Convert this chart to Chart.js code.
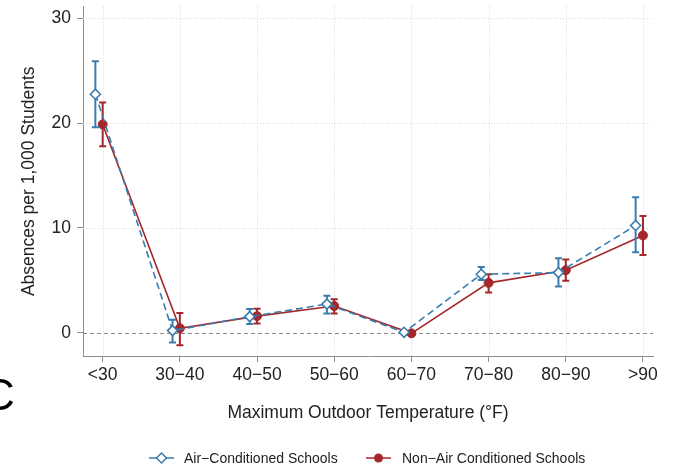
<!DOCTYPE html>
<html>
<head>
<meta charset="utf-8">
<script src="https://cdn.jsdelivr.net/npm/chart.js@4/dist/chart.umd.min.js"></script>
<style>
  html, body { margin: 0; padding: 0; background: #fff; }
  #wrap { position: relative; width: 673px; height: 469px; }
</style>
</head>
<body>
<div id="wrap"><canvas id="chart" width="673" height="469"></canvas></div>
<script>
// temperature bins
const categories = ['<30', '30\u221240', '40\u221250', '50\u221260', '60\u221270', '70\u221280', '80\u221290', '>90'];
const yTicks = [0, 10, 20, 30];

// air-conditioned schools: estimate and 95% CI
const acMean = [22.75, 0.22, 1.55, 2.75, 0.06, 5.59, 5.75, 10.24];
const acLow  = [19.6, -0.92, 0.85, 1.86, -0.1, 5.05, 4.42, 7.68];
const acHigh = [25.9, 1.26, 2.27, 3.54, 0.2, 6.28, 7.11, 12.92];

// non-air-conditioned schools
const nacMean = [19.87, 0.44, 1.6, 2.56, -0.04, 4.77, 5.97, 9.29];
const nacLow  = [17.8, -1.17, 0.9, 1.86, -0.15, 3.85, 4.96, 7.42];
const nacHigh = [21.95, 1.9, 2.3, 3.22, 0.1, 5.59, 7.0, 11.15];

const BLUE = '#3a7cb0';
const RED = '#a4282b';
const AXIS = '#8e8e8e';
const FONT = '"Liberation Sans", Arial, Helvetica, sans-serif';
const AC_SHIFT = -0.095; // dodge the two series a little

Chart.defaults.font.family = FONT;
Chart.defaults.color = '#222';

// dotted grid + dashed zero line, drawn before the data
const gridPlugin = {
  id: 'statGrid',
  beforeDatasetsDraw(chart) {
    const { ctx, chartArea: a, scales: { x, y } } = chart;
    ctx.save();
    ctx.lineWidth = 1;
    ctx.strokeStyle = '#d6d6d6';
    ctx.setLineDash([1, 2]);
    categories.forEach((c, i) => {
      const px = Math.round(x.getPixelForValue(i)) + 0.5;
      ctx.beginPath();
      ctx.moveTo(px, a.top);
      ctx.lineTo(px, a.bottom);
      ctx.stroke();
    });
    yTicks.filter(v => v !== 0).forEach(v => {
      const py = Math.round(y.getPixelForValue(v)) + 0.5;
      ctx.beginPath();
      ctx.moveTo(a.left, py);
      ctx.lineTo(a.right, py);
      ctx.stroke();
    });
    ctx.strokeStyle = '#8a8a8a';
    ctx.setLineDash([4, 3]);
    const y0 = Math.round(y.getPixelForValue(0)) + 0.5;
    ctx.beginPath();
    ctx.moveTo(a.left, y0);
    ctx.lineTo(a.right, y0);
    ctx.stroke();
    ctx.restore();
  }
};

// confidence interval whiskers, under each dataset's markers
const errorBarPlugin = {
  id: 'errorBars',
  beforeDatasetDraw(chart, args) {
    const ds = chart.data.datasets[args.index];
    if (!ds.errLow) return;
    const { ctx, scales: { x, y } } = chart;
    ctx.save();
    ctx.strokeStyle = ds.borderColor;
    ctx.lineWidth = 2;
    ctx.setLineDash([]);
    ds.data.forEach((p, i) => {
      const px = x.getPixelForValue(p.x);
      const lo = y.getPixelForValue(ds.errLow[i]);
      const hi = y.getPixelForValue(ds.errHigh[i]);
      ctx.beginPath();
      ctx.moveTo(px, lo);
      ctx.lineTo(px, hi);
      ctx.moveTo(px - 3.5, lo);
      ctx.lineTo(px + 3.5, lo);
      ctx.moveTo(px - 3.5, hi);
      ctx.lineTo(px + 3.5, hi);
      ctx.stroke();
    });
    ctx.restore();
  }
};

// bottom legend row and the panel letter
const legendPlugin = {
  id: 'legendRow',
  afterDraw(chart) {
    const ctx = chart.ctx;
    const ly = 458;
    ctx.save();
    ctx.lineWidth = 1.5;
    // air-conditioned
    ctx.strokeStyle = BLUE;
    ctx.beginPath();
    ctx.moveTo(149, ly); ctx.lineTo(174, ly);
    ctx.stroke();
    ctx.fillStyle = '#fff';
    ctx.beginPath();
    ctx.moveTo(161.5, ly - 5); ctx.lineTo(166.5, ly); ctx.lineTo(161.5, ly + 5); ctx.lineTo(156.5, ly);
    ctx.closePath();
    ctx.fill(); ctx.stroke();
    // non-air-conditioned
    ctx.strokeStyle = RED;
    ctx.fillStyle = RED;
    ctx.beginPath();
    ctx.moveTo(366, ly); ctx.lineTo(391, ly);
    ctx.stroke();
    ctx.beginPath();
    ctx.arc(378.5, ly, 4.5, 0, Math.PI * 2);
    ctx.fill();

    ctx.fillStyle = '#222';
    ctx.font = '14px ' + FONT;
    ctx.textBaseline = 'middle';
    ctx.fillText(chart.data.datasets[0].label, 184, ly + 1);
    ctx.fillText(chart.data.datasets[1].label, 402, ly + 1);

    ctx.font = '44px ' + FONT;
    ctx.textBaseline = 'alphabetic';
    ctx.fillStyle = '#000';
    ctx.fillText('C', -17, 410);
    ctx.restore();
  }
};

const ctx = document.getElementById('chart').getContext('2d');
new Chart(ctx, {
  type: 'line',
  data: {
    datasets: [
      {
        label: 'Air\u2212Conditioned Schools',
        data: acMean.map((v, i) => ({ x: i + AC_SHIFT, y: v })),
        errLow: acLow,
        errHigh: acHigh,
        borderColor: BLUE,
        borderWidth: 1.6,
        borderDash: [7, 4],
        pointStyle: 'rectRot',
        pointRadius: 5,
        pointBackgroundColor: '#fff',
        pointBorderColor: BLUE,
        pointBorderWidth: 1.6,
        tension: 0,
        fill: false
      },
      {
        label: 'Non\u2212Air Conditioned Schools',
        data: nacMean.map((v, i) => ({ x: i, y: v })),
        errLow: nacLow,
        errHigh: nacHigh,
        borderColor: RED,
        borderWidth: 1.6,
        pointStyle: 'circle',
        pointRadius: 4.5,
        pointBackgroundColor: RED,
        pointBorderColor: RED,
        pointBorderWidth: 1,
        tension: 0,
        fill: false
      }
    ]
  },
  options: {
    responsive: false,
    devicePixelRatio: 1,
    animation: false,
    layout: { padding: { top: 4, right: 20, bottom: 0, left: 0 } },
    plugins: {
      legend: { display: false },
      tooltip: { enabled: false }
    },
    scales: {
      x: {
        type: 'linear',
        min: -0.255,
        max: 7.13,
        afterBuildTicks: axis => { axis.ticks = categories.map((c, i) => ({ value: i })); },
        afterFit: scale => { scale.height = 113; scale.paddingLeft = 0; scale.paddingRight = 0; },
        ticks: {
          autoSkip: false,
          maxRotation: 0,
          padding: 3,
          font: { size: 17.5 },
          callback: v => categories[Math.round(v)]
        },
        grid: { drawOnChartArea: false, drawTicks: true, tickLength: 6, tickColor: AXIS, tickWidth: 1 },
        border: { color: AXIS, width: 1 },
        title: {
          display: true,
          text: 'Maximum Outdoor Temperature (\u00b0F)',
          font: { size: 17.5 },
          padding: { top: 0, bottom: 45 }
        }
      },
      y: {
        min: -2.2,
        max: 31.1,
        afterBuildTicks: axis => { axis.ticks = yTicks.map(v => ({ value: v })); },
        afterFit: scale => { scale.width = 83; scale.paddingTop = 0; scale.paddingBottom = 0; },
        ticks: { padding: 6, font: { size: 17.5 } },
        grid: { drawOnChartArea: false, drawTicks: true, tickLength: 6, tickColor: AXIS, tickWidth: 1 },
        border: { color: AXIS, width: 1 },
        title: {
          display: true,
          text: 'Absences per 1,000 Students',
          font: { size: 17.5 },
          padding: { top: 19, bottom: 0 }
        }
      }
    }
  },
  plugins: [gridPlugin, errorBarPlugin, legendPlugin]
});
</script>
</body>
</html>
